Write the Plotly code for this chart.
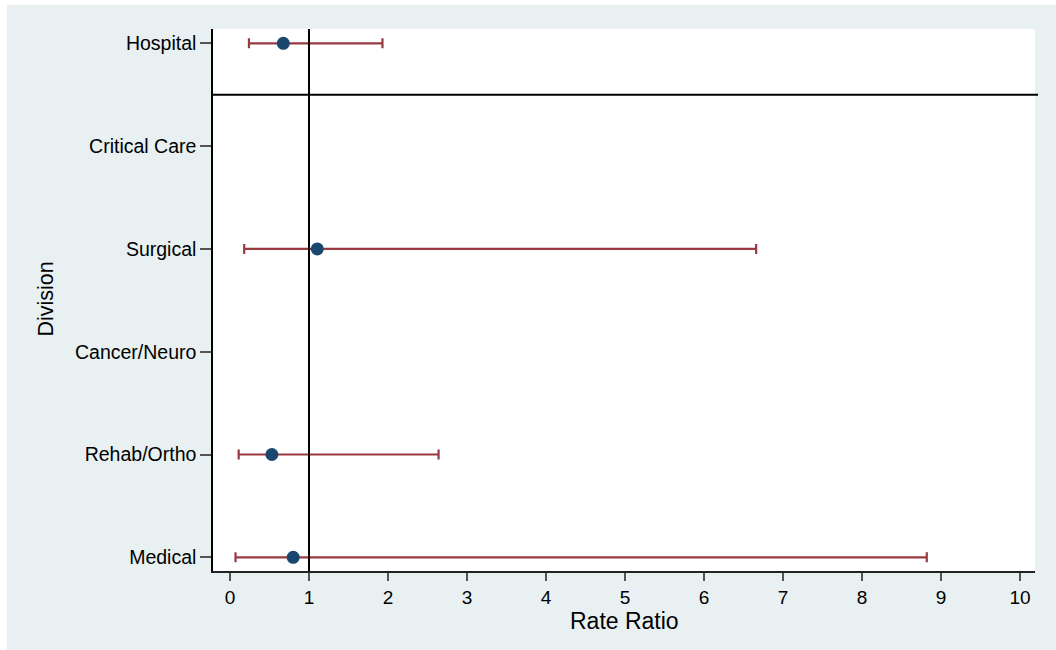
import plotly.graph_objects as go

# ---- data ----
divisions = ["Medical", "Rehab/Ortho", "Cancer/Neuro", "Surgical", "Critical Care", "Hospital"]
rate_ratio = [0.80, 0.53, None, 1.105, None, 0.675]
ci_low = [0.07, 0.11, None, 0.18, None, 0.24]
ci_high = [8.82, 2.64, None, 6.66, None, 1.93]
x_ticks = list(range(0, 11))
null_value = 1
separator_pos = 4.5  # between Hospital and the divisions

positions = list(range(len(divisions)))
err_plus = [(h - r) if r is not None else None for r, h in zip(rate_ratio, ci_high)]
err_minus = [(r - l) if r is not None else None for r, l in zip(rate_ratio, ci_low)]

FONT = "Liberation Sans, Arial, sans-serif"
W, H = 1056, 650
L, R, T, B = 213, 21, 29, 79
pw, ph = W - L - R, H - T - B


def px_x(p):
    return (p - L) / pw


def px_y(p):
    return (H - B - p) / ph


fig = go.Figure()
fig.add_trace(go.Scatter(
    x=rate_ratio, y=positions, mode="markers",
    marker=dict(size=13, color="#1A476F", line=dict(width=0)),
    error_x=dict(type="data", symmetric=False, array=err_plus, arrayminus=err_minus,
                 color="#993A42", thickness=2.2, width=5),
    showlegend=False, hoverinfo="skip",
))

shapes = [
    # outer graph region
    dict(type="rect", xref="paper", yref="paper", x0=px_x(7), x1=px_x(1060),
         y0=px_y(654), y1=px_y(5), fillcolor="#E8F0F2", line=dict(width=0), layer="below"),
    # white plot region
    dict(type="rect", xref="paper", yref="paper", x0=0, x1=1, y0=0, y1=1,
         fillcolor="white", line=dict(width=0), layer="below"),
    dict(type="line", xref="x", yref="paper", x0=null_value, x1=null_value, y0=0, y1=1,
         line=dict(color="black", width=2), layer="above"),
    dict(type="line", xref="paper", yref="y", x0=0, x1=px_x(1038), y0=separator_pos, y1=separator_pos,
         line=dict(color="black", width=2), layer="above"),
]

annotations = [
    dict(text="Rate Ratio", xref="paper", yref="paper", x=px_x(624), y=px_y(621),
         xanchor="center", yanchor="middle", showarrow=False,
         font=dict(family=FONT, size=23, color="black")),
    dict(text="Division", xref="paper", yref="paper", x=px_x(45.5), y=px_y(299),
         xanchor="center", yanchor="middle", showarrow=False, textangle=-90,
         font=dict(family=FONT, size=21.5, color="black")),
]

fig.update_layout(
    width=W, height=H,
    margin=dict(l=L, r=R, t=T, b=B, pad=0),
    paper_bgcolor="white", plot_bgcolor="white",
    font=dict(family=FONT, size=19.5, color="black"),
    shapes=shapes, annotations=annotations,
    xaxis=dict(range=[-0.215, 10.19], tickvals=x_ticks, ticktext=[str(t) for t in x_ticks],
               showgrid=False, zeroline=False, showline=True, linecolor="#222", linewidth=1.5,
               ticks="outside", ticklen=8, tickwidth=1.5, tickcolor="#555",
               tickfont=dict(family=FONT, size=19, color="black")),
    yaxis=dict(range=[-0.133, 5.139], tickvals=positions, ticktext=divisions,
               showgrid=False, zeroline=False, showline=True, linecolor="black", linewidth=1.5,
               ticks="outside", ticklen=11, tickwidth=1.5, tickcolor="#555",
               tickfont=dict(family=FONT, size=19.5, color="black")),
)

fig.write_html("out.html")
